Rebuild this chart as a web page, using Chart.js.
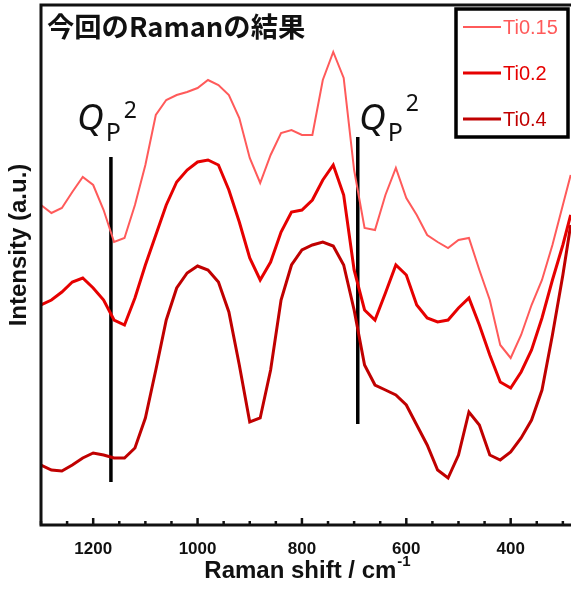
<!DOCTYPE html>
<html>
<head>
<meta charset="utf-8">
<script src="https://cdn.jsdelivr.net/npm/chart.js@4.4.1/dist/chart.umd.min.js"></script>
<style>
html,body{margin:0;padding:0;background:#fff;}
canvas{display:block;}
</style>
</head>
<body>
<canvas id="c" width="571" height="596"></canvas>
<script>
// Raman shift (cm-1)
const ramanShift = [1300,1280,1260,1240,1220,1200,1180,1160,1140,1120,1100,1080,1060,1040,1020,1000,980,960,940,920,900,880,860,840,820,800,780,760,740,720,700,680,660,640,620,600,580,560,540,520,500,480,460,440,420,400,380,360,340,320,300,285];
// Intensities (a.u.), offset spectra
const ti015 = [320,312,317,333,348,340,315,283,287,320,360,410,425,430,433,437,445,440,430,407,367,342,370,392,395,390,390,445,473,447,355,297,295,330,357,327,310,290,283,277,285,287,255,225,180,167,190,220,245,280,320,350];
const ti02  = [220,225,233,243,247,237,225,205,200,227,260,290,320,343,355,363,365,360,335,303,267,245,263,293,313,315,325,345,360,330,255,215,205,232,260,250,220,207,203,205,217,227,200,170,143,137,153,175,207,245,280,310];
const ti04  = [60,55,54,60,67,72,70,67,67,77,107,155,205,237,252,259,255,243,213,160,103,107,155,225,260,275,280,283,279,260,215,160,140,135,130,120,100,80,55,47,70,113,100,70,65,73,87,105,135,190,250,300];
const seriesNames = ['Ti0.15','Ti0.2','Ti0.4'];
// Q_P^2 marker lines
const qpShift = [1166, 693];
const qpTop = [368, 388];
const qpBottom = [43, 101];
// axis ticks
const tickLabels = [1200,1000,800,600,400];
const minorStep = 50;
const xMin = 284.4, xMax = 1300, yMin = 0, yMax = 520;

const colors = ['#FF5A5A','#E60000','#C00000'];
const widths = [2,3,3];

function pts(arr){ return ramanShift.map((s,i)=>({x:s,y:arr[i]})); }

const datasets = [ti015,ti02,ti04].map((arr,i)=>({
  label: seriesNames[i], data: pts(arr), borderColor: colors[i], backgroundColor: colors[i],
  borderWidth: widths[i], pointRadius:0, tension:0, fill:false
}));
qpShift.forEach((s,i)=>{
  datasets.push({label:'QP'+i, data:[{x:s,y:qpBottom[i]},{x:s,y:qpTop[i]}], borderColor:'#000', borderWidth:3.5, pointRadius:0, isMarker:true});
});

const SANS = '"Liberation Sans", Arial, sans-serif';

const decor = {
  id:'decor',
  afterDraw(chart){
    const ctx = chart.ctx, ca = chart.chartArea, xs = chart.scales.x;
    ctx.save();
    // frame
    ctx.strokeStyle = '#111'; ctx.lineWidth = 3; ctx.lineCap='square';
    ctx.beginPath();
    ctx.moveTo(ca.right+2, ca.top); ctx.lineTo(ca.left, ca.top);
    ctx.lineTo(ca.left, ca.bottom); ctx.lineTo(ca.right+2, ca.bottom);
    ctx.stroke();
    // ticks (inward)
    ctx.lineWidth = 2.5; ctx.lineCap='butt';
    for (let v = 1300; v >= xMin; v -= minorStep){
      const px = xs.getPixelForValue(v);
      const major = tickLabels.includes(v);
      const len = major ? 7 : 4;
      ctx.beginPath(); ctx.moveTo(px, ca.bottom); ctx.lineTo(px, ca.bottom-len); ctx.stroke();
    }
    // title
    ctx.fillStyle = '#111';
    ctx.textBaseline = 'alphabetic';
    let fs = 26;
    ctx.font = 'bold '+fs+'px "Noto Sans CJK JP", sans-serif';
    const w = ctx.measureText('今回のRamanの結果').width;
    fs = fs*258/w;
    ctx.font = 'bold '+fs.toFixed(1)+'px "Noto Sans CJK JP", sans-serif';
    ctx.fillText('今回のRamanの結果', 47, 37);
    // x axis title
    ctx.font = 'bold 24px '+SANS;
    const main = 'Raman shift / cm';
    const mw = ctx.measureText(main).width;
    ctx.font = 'bold 15px '+SANS;
    const sw = ctx.measureText('-1').width;
    const x0 = 305 - (mw+sw)/2 + 2;
    ctx.font = 'bold 24px '+SANS;
    ctx.fillText(main, x0, 578);
    ctx.font = 'bold 15px '+SANS;
    ctx.fillText('-1', x0+mw+1, 566);
    // y axis title
    ctx.save();
    ctx.translate(26, 245); ctx.rotate(-Math.PI/2);
    ctx.font = 'bold 24px '+SANS; ctx.textAlign='center';
    ctx.fillText('Intensity (a.u.)', 0, 0);
    ctx.restore();
    // Q_P^2 labels
    const qx = [77, 359];
    const sup = [118, 111];
    qx.forEach((x,i)=>{
      ctx.font = 'italic 37px "Noto Sans", sans-serif';
      ctx.fillText('Q', x, 130);
      const qw = ctx.measureText('Q').width;
      ctx.font = '25px "Noto Sans", sans-serif';
      ctx.fillText('P', x+qw+2, 141);
      const pw = ctx.measureText('P').width;
      ctx.font = '23px "Noto Sans", sans-serif';
      ctx.fillText('2', x+qw+pw+5, sup[i]);
    });
    // legend
    ctx.strokeStyle = '#000'; ctx.lineWidth = 3.5;
    ctx.strokeRect(456, 9, 112, 128);
    const ly = [27, 73, 119];
    chart.data.datasets.filter(d=>!d.isMarker).forEach((d,i)=>{
      ctx.strokeStyle = d.borderColor; ctx.lineWidth = d.borderWidth;
      ctx.beginPath(); ctx.moveTo(463, ly[i]); ctx.lineTo(501, ly[i]); ctx.stroke();
      ctx.fillStyle = d.borderColor;
      ctx.font = '20px '+SANS; ctx.textBaseline='middle';
      ctx.fillText(d.label, 503, ly[i]+1);
    });
    ctx.restore();
  }
};

new Chart(document.getElementById('c'), {
  type:'line',
  data:{datasets},
  options:{
    responsive:false, animation:false, devicePixelRatio:1,
    layout:{padding:{left:41, top:5, right:0, bottom:0}},
    plugins:{legend:{display:false}, tooltip:{enabled:false}},
    scales:{
      x:{type:'linear', reverse:true, min:xMin, max:xMax,
        grid:{display:false, drawTicks:false}, border:{display:false},
        afterBuildTicks(s){ s.ticks = tickLabels.map(v=>({value:v})); },
        afterFit(s){ s.height = 71; },
        ticks:{color:'#111', padding:14, maxRotation:0, autoSkip:false,
          callback:(v)=>String(v),
          font:{family:'"Liberation Sans", Arial, sans-serif', size:17, weight:'bold'}}
      },
      y:{display:false, min:yMin, max:yMax}
    }
  },
  plugins:[decor]
});
</script>
</body>
</html>
